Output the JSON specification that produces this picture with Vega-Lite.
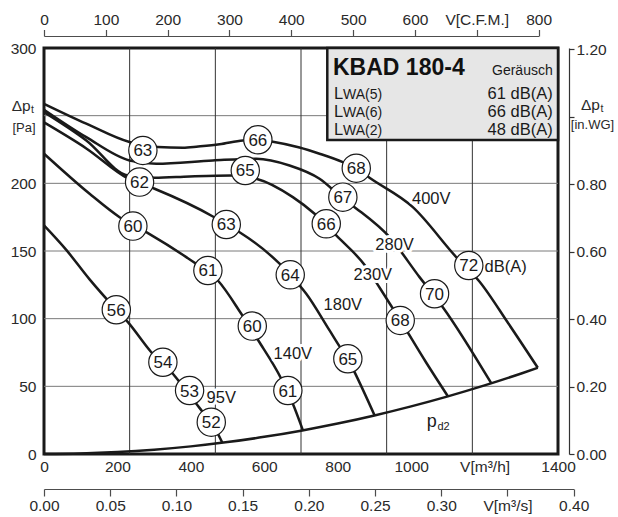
{
  "$schema": "https://vega.github.io/schema/vega-lite/v6.json",
  "width": 514,
  "height": 406,
  "autosize": {"type": "none"},
  "padding": {"left": 44, "top": 48, "right": 60, "bottom": 63},
  "background": "white",
  "config": {
    "font": "Liberation Sans",
    "view": {"stroke": "#1a1a1a", "strokeWidth": 3},
    "axis": {"labelFont": "Liberation Sans", "labelFontSize": 15.5, "labelColor": "#2a2a2a", "labelFlush": false, "labelOverlap": false, "grid": false},
    "text": {"font": "Liberation Sans", "color": "#1a1a1a"}
  },
  "layer": [
    {
      "layer": [
        {
          "data": {"values": [{"p": 50}, {"p": 100}, {"p": 150}, {"p": 200}, {"p": 250}]},
          "mark": {"type": "rule", "color": "#7a7a7a", "strokeWidth": 1},
          "encoding": {"y": {"field": "p", "type": "quantitative", "scale": {"domain": [0, 300], "nice": false}}}
        },
        {
          "data": {"values": [{"q": 233.3}, {"q": 466.7}, {"q": 700}, {"q": 933.3}, {"q": 1166.7}]},
          "mark": {"type": "rule", "color": "#333333", "strokeWidth": 1},
          "encoding": {"x": {"field": "q", "type": "quantitative", "scale": {"domain": [0, 1400], "nice": false, "zero": false}}}
        },
        {
          "data": {"values": [{"q": 771.6, "q2": 1400, "p": 232, "p2": 300}]},
          "mark": {"type": "rect", "fill": "#e6e6e6", "stroke": "#1a1a1a", "strokeWidth": 2.5},
          "encoding": {
            "x": {"field": "q", "type": "quantitative", "scale": {"domain": [0, 1400], "nice": false, "zero": false}},
            "x2": {"field": "q2"},
            "y": {"field": "p", "type": "quantitative", "scale": {"domain": [0, 300], "nice": false}},
            "y2": {"field": "p2"}
          }
        },
        {
          "data": {"values": [
            {"c": "400V", "q": 0, "p": 258.8}, {"c": "400V", "q": 115.2, "p": 244.1}, {"c": "400V", "q": 233.1, "p": 230.5}, {"c": "400V", "q": 310.2, "p": 226.8}, {"c": "400V", "q": 378.3, "p": 226.3}, {"c": "400V", "q": 420, "p": 227.2}, {"c": "400V", "q": 478, "p": 228.8}, {"c": "400V", "q": 541.7, "p": 231.7}, {"c": "400V", "q": 582.5, "p": 232.2}, {"c": "400V", "q": 623.4, "p": 230.8}, {"c": "400V", "q": 696, "p": 226.5}, {"c": "400V", "q": 750.5, "p": 221.9}, {"c": "400V", "q": 814, "p": 215.7}, {"c": "400V", "q": 850.5, "p": 211.2}, {"c": "400V", "q": 886.7, "p": 204.1}, {"c": "400V", "q": 1004.6, "p": 182.4}, {"c": "400V", "q": 1122.8, "p": 145.5}, {"c": "400V", "q": 1186, "p": 127.5}, {"c": "400V", "q": 1265, "p": 96.4}, {"c": "400V", "q": 1345, "p": 63.7},
            {"c": "280V", "q": 0, "p": 254.4}, {"c": "280V", "q": 115.2, "p": 234.1}, {"c": "280V", "q": 233.1, "p": 216.9}, {"c": "280V", "q": 305.8, "p": 214.5}, {"c": "280V", "q": 460, "p": 216.9}, {"c": "280V", "q": 578.2, "p": 218.2}, {"c": "280V", "q": 668.8, "p": 213.2}, {"c": "280V", "q": 750.5, "p": 203.4}, {"c": "280V", "q": 812, "p": 189.4}, {"c": "280V", "q": 845.9, "p": 182.4}, {"c": "280V", "q": 941.2, "p": 160.2}, {"c": "280V", "q": 1022.9, "p": 130.7}, {"c": "280V", "q": 1086.3, "p": 108.5}, {"c": "280V", "q": 1218.1, "p": 52.3},
            {"c": "230V", "q": 0, "p": 252.6}, {"c": "230V", "q": 115.2, "p": 231.7}, {"c": "230V", "q": 228.5, "p": 205.8}, {"c": "230V", "q": 301.2, "p": 204.1}, {"c": "230V", "q": 396.5, "p": 205.1}, {"c": "230V", "q": 510, "p": 205.8}, {"c": "230V", "q": 578.2, "p": 203.4}, {"c": "230V", "q": 677.8, "p": 189.8}, {"c": "230V", "q": 737, "p": 177.5}, {"c": "230V", "q": 796, "p": 161.5}, {"c": "230V", "q": 877.7, "p": 138.1}, {"c": "230V", "q": 913.9, "p": 123}, {"c": "230V", "q": 970, "p": 99}, {"c": "230V", "q": 1040, "p": 68}, {"c": "230V", "q": 1100, "p": 42.7},
            {"c": "180V", "q": 0, "p": 245}, {"c": "180V", "q": 115.2, "p": 225.8}, {"c": "180V", "q": 228.5, "p": 203.6}, {"c": "180V", "q": 301.2, "p": 196}, {"c": "180V", "q": 460, "p": 175.5}, {"c": "180V", "q": 496.5, "p": 169.6}, {"c": "180V", "q": 532.7, "p": 163.9}, {"c": "180V", "q": 641.6, "p": 140.6}, {"c": "180V", "q": 670.7, "p": 132.4}, {"c": "180V", "q": 714.3, "p": 118.4}, {"c": "180V", "q": 777.8, "p": 91.3}, {"c": "180V", "q": 805, "p": 79.5}, {"c": "180V", "q": 827.6, "p": 70.4}, {"c": "180V", "q": 845.9, "p": 60.5}, {"c": "180V", "q": 900.3, "p": 28.6},
            {"c": "140V", "q": 0, "p": 221.9}, {"c": "140V", "q": 124.2, "p": 192.3}, {"c": "140V", "q": 205.9, "p": 175}, {"c": "140V", "q": 278.6, "p": 163.9}, {"c": "140V", "q": 387.5, "p": 145.5}, {"c": "140V", "q": 414.8, "p": 140.5}, {"c": "140V", "q": 473.6, "p": 128.2}, {"c": "140V", "q": 537.3, "p": 103.6}, {"c": "140V", "q": 582.5, "p": 84.4}, {"c": "140V", "q": 646.2, "p": 55.6}, {"c": "140V", "q": 677.8, "p": 37.1}, {"c": "140V", "q": 705, "p": 17.6},
            {"c": "95V", "q": 0, "p": 168.9}, {"c": "95V", "q": 60, "p": 151}, {"c": "95V", "q": 124.2, "p": 129}, {"c": "95V", "q": 196.9, "p": 106.6}, {"c": "95V", "q": 228.5, "p": 97.4}, {"c": "95V", "q": 292.2, "p": 75.2}, {"c": "95V", "q": 351, "p": 59.3}, {"c": "95V", "q": 369.3, "p": 53.1}, {"c": "95V", "q": 414.8, "p": 37.1}, {"c": "95V", "q": 432.7, "p": 30.9}, {"c": "95V", "q": 473.6, "p": 14.9}, {"c": "95V", "q": 485.6, "p": 8.4},
            {"c": "pd2", "q": 0, "p": 0}, {"c": "pd2", "q": 100, "p": 0.35}, {"c": "pd2", "q": 200, "p": 1.41}, {"c": "pd2", "q": 300, "p": 3.17}, {"c": "pd2", "q": 400, "p": 5.63}, {"c": "pd2", "q": 500, "p": 8.8}, {"c": "pd2", "q": 600, "p": 12.67}, {"c": "pd2", "q": 700, "p": 17.25}, {"c": "pd2", "q": 800, "p": 22.5}, {"c": "pd2", "q": 900, "p": 28.5}, {"c": "pd2", "q": 1000, "p": 35.2}, {"c": "pd2", "q": 1100, "p": 42.6}, {"c": "pd2", "q": 1200, "p": 50.7}, {"c": "pd2", "q": 1300, "p": 59.5}, {"c": "pd2", "q": 1345, "p": 63.7}
          ]},
          "mark": {"type": "line", "color": "#1a1a1a", "strokeWidth": 2.5, "interpolate": "monotone"},
          "encoding": {
            "x": {"field": "q", "type": "quantitative", "scale": {"domain": [0, 1400], "nice": false, "zero": false},
                  "axis": {"title": null, "orient": "bottom", "domain": false, "ticks": false, "tickSize": 0, "labelPadding": 5, "format": "d",
                           "values": [0, 200, 400, 600, 800, 1000, 1200, 1400],
                           "labelExpr": "datum.value == 1200 ? 'V[m³/h]' : datum.label"}},
            "y": {"field": "p", "type": "quantitative", "scale": {"domain": [0, 300], "nice": false},
                  "axis": {"title": null, "orient": "left", "domain": false, "ticks": false, "tickSize": 0, "labelPadding": 8,
                           "values": [0, 50, 100, 150, 200, 300]}},
            "detail": {"field": "c"}
          }
        },
        {
          "data": {"values": [{"q": 482.8, "p": 41.5, "t": "95V"}, {"q": 677.8, "p": 74.1, "t": "140V"}, {"q": 814, "p": 109.8, "t": "180V"}, {"q": 895.7, "p": 131.9, "t": "230V"}, {"q": 954.8, "p": 154.1, "t": "280V"}, {"q": 1054.7, "p": 188.6, "t": "400V"}]},
          "mark": {"type": "text", "fontSize": 16.5, "align": "center", "baseline": "middle", "fill": "white", "stroke": "white", "strokeWidth": 6, "strokeJoin": "round"},
          "encoding": {
            "x": {"field": "q", "type": "quantitative", "scale": {"domain": [0, 1400], "nice": false, "zero": false}},
            "y": {"field": "p", "type": "quantitative", "scale": {"domain": [0, 300], "nice": false}},
            "text": {"field": "t"}
          }
        },
        {
          "data": {"values": [{"q": 482.8, "p": 41.5, "t": "95V"}, {"q": 677.8, "p": 74.1, "t": "140V"}, {"q": 814, "p": 109.8, "t": "180V"}, {"q": 895.7, "p": 131.9, "t": "230V"}, {"q": 954.8, "p": 154.1, "t": "280V"}, {"q": 1054.7, "p": 188.6, "t": "400V"}]},
          "mark": {"type": "text", "fontSize": 16.5, "align": "center", "baseline": "middle", "color": "#1a1a1a"},
          "encoding": {
            "x": {"field": "q", "type": "quantitative", "scale": {"domain": [0, 1400], "nice": false, "zero": false}},
            "y": {"field": "p", "type": "quantitative", "scale": {"domain": [0, 300], "nice": false}},
            "text": {"field": "t"}
          }
        },
        {
          "data": {"values": [{"q": 1200, "p": 138, "t": "dB(A)"}]},
          "mark": {"type": "text", "fontSize": 16.5, "align": "left", "baseline": "middle", "color": "#1a1a1a"},
          "encoding": {
            "x": {"field": "q", "type": "quantitative", "scale": {"domain": [0, 1400], "nice": false, "zero": false}},
            "y": {"field": "p", "type": "quantitative", "scale": {"domain": [0, 300], "nice": false}},
            "text": {"field": "t"}
          }
        },
        {
          "data": {"name": "circles", "values": [
            {"q": 269.3, "p": 224.3, "t": "63"}, {"q": 582.5, "p": 232.2, "t": "66"}, {"q": 850.5, "p": 211.2, "t": "68"}, {"q": 1157, "p": 139.3, "t": "72"},
            {"q": 814, "p": 189.8, "t": "67"}, {"q": 1063.8, "p": 118.4, "t": "70"},
            {"q": 260.3, "p": 200.9, "t": "62"}, {"q": 548.2, "p": 209.5, "t": "65"}, {"q": 768.8, "p": 170.1, "t": "66"}, {"q": 970.3, "p": 98.7, "t": "68"},
            {"q": 496.5, "p": 169.6, "t": "63"}, {"q": 670.7, "p": 132.4, "t": "64"}, {"q": 827.6, "p": 70.4, "t": "65"},
            {"q": 242.1, "p": 168.4, "t": "60"}, {"q": 446.4, "p": 135.6, "t": "61"}, {"q": 567.3, "p": 94.5, "t": "60"}, {"q": 664.2, "p": 46.9, "t": "61"},
            {"q": 196.9, "p": 106.6, "t": "56"}, {"q": 323.8, "p": 67.8, "t": "54"}, {"q": 396.5, "p": 46.9, "t": "53"}, {"q": 455.6, "p": 23.5, "t": "52"}
          ]},
          "layer": [
            {
              "mark": {"type": "point", "shape": "circle", "filled": true, "fill": "white", "fillOpacity": 1, "stroke": "#1a1a1a", "strokeOpacity": 1, "strokeWidth": 1.2, "size": 800, "opacity": 1},
              "encoding": {
                "x": {"field": "q", "type": "quantitative", "scale": {"domain": [0, 1400], "nice": false, "zero": false}},
                "y": {"field": "p", "type": "quantitative", "scale": {"domain": [0, 300], "nice": false}}
              }
            },
            {
              "mark": {"type": "text", "fontSize": 17, "align": "center", "baseline": "middle", "dy": 1, "color": "#1a1a1a"},
              "encoding": {
                "x": {"field": "q", "type": "quantitative", "scale": {"domain": [0, 1400], "nice": false, "zero": false}},
                "y": {"field": "p", "type": "quantitative", "scale": {"domain": [0, 300], "nice": false}},
                "text": {"field": "t"}
              }
            }
          ]
        },
        {
          "data": {"values": [{"q": 787.2, "p": 280.1, "t": "KBAD 180-4"}]},
          "mark": {"type": "text", "fontSize": 23, "fontWeight": "bold", "align": "left", "baseline": "alphabetic", "color": "#111111"},
          "encoding": {
            "x": {"field": "q", "type": "quantitative", "scale": {"domain": [0, 1400], "nice": false, "zero": false}},
            "y": {"field": "p", "type": "quantitative", "scale": {"domain": [0, 300], "nice": false}},
            "text": {"field": "t"}
          }
        },
        {
          "data": {"values": [{"q": 1385.6, "p": 280.1, "t": "Geräusch"}]},
          "mark": {"type": "text", "fontSize": 14, "align": "right", "baseline": "alphabetic", "color": "#1a1a1a"},
          "encoding": {
            "x": {"field": "q", "type": "quantitative", "scale": {"domain": [0, 1400], "nice": false, "zero": false}},
            "y": {"field": "p", "type": "quantitative", "scale": {"domain": [0, 300], "nice": false}},
            "text": {"field": "t"}
          }
        },
        {
          "data": {"values": [{"q": 789.9, "p": 262.2, "t": "L"}, {"q": 789.9, "p": 249.1, "t": "L"}, {"q": 789.9, "p": 235.6, "t": "L"}]},
          "mark": {"type": "text", "fontSize": 16.5, "align": "left", "baseline": "alphabetic", "color": "#1a1a1a"},
          "encoding": {
            "x": {"field": "q", "type": "quantitative", "scale": {"domain": [0, 1400], "nice": false, "zero": false}},
            "y": {"field": "p", "type": "quantitative", "scale": {"domain": [0, 300], "nice": false}},
            "text": {"field": "t"}
          }
        },
        {
          "data": {"values": [{"q": 814.4, "p": 262.2, "t": "WA(5)"}, {"q": 814.4, "p": 249.1, "t": "WA(6)"}, {"q": 814.4, "p": 235.6, "t": "WA(2)"}]},
          "mark": {"type": "text", "fontSize": 14, "align": "left", "baseline": "alphabetic", "color": "#1a1a1a"},
          "encoding": {
            "x": {"field": "q", "type": "quantitative", "scale": {"domain": [0, 1400], "nice": false, "zero": false}},
            "y": {"field": "p", "type": "quantitative", "scale": {"domain": [0, 300], "nice": false}},
            "text": {"field": "t"}
          }
        },
        {
          "data": {"values": [{"q": 1385.6, "p": 262.2, "t": "61 dB(A)"}, {"q": 1385.6, "p": 249.1, "t": "66 dB(A)"}, {"q": 1385.6, "p": 235.6, "t": "48 dB(A)"}]},
          "mark": {"type": "text", "fontSize": 16.5, "align": "right", "baseline": "alphabetic", "color": "#1a1a1a"},
          "encoding": {
            "x": {"field": "q", "type": "quantitative", "scale": {"domain": [0, 1400], "nice": false, "zero": false}},
            "y": {"field": "p", "type": "quantitative", "scale": {"domain": [0, 300], "nice": false}},
            "text": {"field": "t"}
          }
        },
        {
          "data": {"values": [{"q": -36.2, "p": 257.4, "t": "Δp"}, {"q": 1514.4, "p": 257.9, "t": "Δp"}]},
          "mark": {"type": "text", "fontSize": 15.5, "align": "right", "baseline": "middle", "color": "#2a2a2a"},
          "encoding": {
            "x": {"field": "q", "type": "quantitative", "scale": {"domain": [0, 1400], "nice": false, "zero": false}},
            "y": {"field": "p", "type": "quantitative", "scale": {"domain": [0, 300], "nice": false}},
            "text": {"field": "t"}
          }
        },
        {
          "data": {"values": [{"q": -35.4, "p": 254.4, "t": "t"}, {"q": 1515.8, "p": 254.9, "t": "t"}]},
          "mark": {"type": "text", "fontSize": 10.5, "align": "left", "baseline": "middle", "color": "#2a2a2a"},
          "encoding": {
            "x": {"field": "q", "type": "quantitative", "scale": {"domain": [0, 1400], "nice": false, "zero": false}},
            "y": {"field": "p", "type": "quantitative", "scale": {"domain": [0, 300], "nice": false}},
            "text": {"field": "t"}
          }
        },
        {
          "data": {"values": [{"q": -54.5, "p": 240.9, "t": "[Pa]"}, {"q": 1494, "p": 243.1, "t": "[in.WG]"}]},
          "mark": {"type": "text", "fontSize": 13, "align": "center", "baseline": "middle", "color": "#2a2a2a"},
          "encoding": {
            "x": {"field": "q", "type": "quantitative", "scale": {"domain": [0, 1400], "nice": false, "zero": false}},
            "y": {"field": "p", "type": "quantitative", "scale": {"domain": [0, 300], "nice": false}},
            "text": {"field": "t"}
          }
        },
        {
          "data": {"values": [{"q": 1069.6, "p": 23.9, "t": "p"}]},
          "mark": {"type": "text", "fontSize": 18, "align": "right", "baseline": "middle", "color": "#1a1a1a"},
          "encoding": {
            "x": {"field": "q", "type": "quantitative", "scale": {"domain": [0, 1400], "nice": false, "zero": false}},
            "y": {"field": "p", "type": "quantitative", "scale": {"domain": [0, 300], "nice": false}},
            "text": {"field": "t"}
          }
        },
        {
          "data": {"values": [{"q": 1071.8, "p": 20, "t": "d2"}]},
          "mark": {"type": "text", "fontSize": 11, "align": "left", "baseline": "middle", "color": "#1a1a1a"},
          "encoding": {
            "x": {"field": "q", "type": "quantitative", "scale": {"domain": [0, 1400], "nice": false, "zero": false}},
            "y": {"field": "p", "type": "quantitative", "scale": {"domain": [0, 300], "nice": false}},
            "text": {"field": "t"}
          }
        }
      ]
    },
    {
      "data": {"values": [{"cfm": 0}, {"cfm": 800}]},
      "mark": {"type": "point", "opacity": 0},
      "encoding": {
        "x": {"field": "cfm", "type": "quantitative", "scale": {"domain": [0, 800], "range": [0, 494.6], "nice": false, "zero": false},
              "axis": {"title": null, "orient": "top", "offset": 12, "tickSize": 6.5, "labelPadding": 2, "domainColor": "#4d4d4d", "tickColor": "#4d4d4d", "domainWidth": 1.2, "tickWidth": 1.2,
                       "values": [0, 100, 200, 300, 400, 500, 600, 700, 800],
                       "labelExpr": "datum.value == 700 ? 'V[C.F.M.]' : datum.label"}}
      }
    },
    {
      "data": {"values": [{"qs": 0}, {"qs": 0.4}]},
      "mark": {"type": "point", "opacity": 0},
      "encoding": {
        "x": {"field": "qs", "type": "quantitative", "scale": {"domain": [0, 0.4], "range": [0, 529.7], "nice": false, "zero": false},
              "axis": {"title": null, "orient": "bottom", "offset": 35, "tickSize": 7, "labelPadding": 2, "domainColor": "#4d4d4d", "tickColor": "#4d4d4d", "domainWidth": 1.2, "tickWidth": 1.2, "format": ".2f",
                       "values": [0, 0.05, 0.1, 0.15, 0.2, 0.25, 0.3, 0.35, 0.4],
                       "labelExpr": "abs(datum.value - 0.35) < 0.001 ? 'V[m³/s]' : datum.label"}}
      }
    },
    {
      "data": {"values": [{"w": 0}, {"w": 1.2}]},
      "mark": {"type": "point", "opacity": 0},
      "encoding": {
        "y": {"field": "w", "type": "quantitative", "scale": {"domain": [0, 1.2044], "nice": false, "zero": false},
              "axis": {"title": null, "orient": "right", "offset": 11, "tickSize": 5, "labelPadding": 2, "domainColor": "#333333", "tickColor": "#333333", "domainWidth": 1.2, "tickWidth": 1.2, "format": ".2f",
                       "values": [0, 0.2, 0.4, 0.6, 0.8, 1, 1.2],
                       "labelExpr": "datum.value == 1 ? '' : datum.label"}}
      }
    }
  ],
  "resolve": {"scale": {"x": "independent", "y": "independent"}}
}
